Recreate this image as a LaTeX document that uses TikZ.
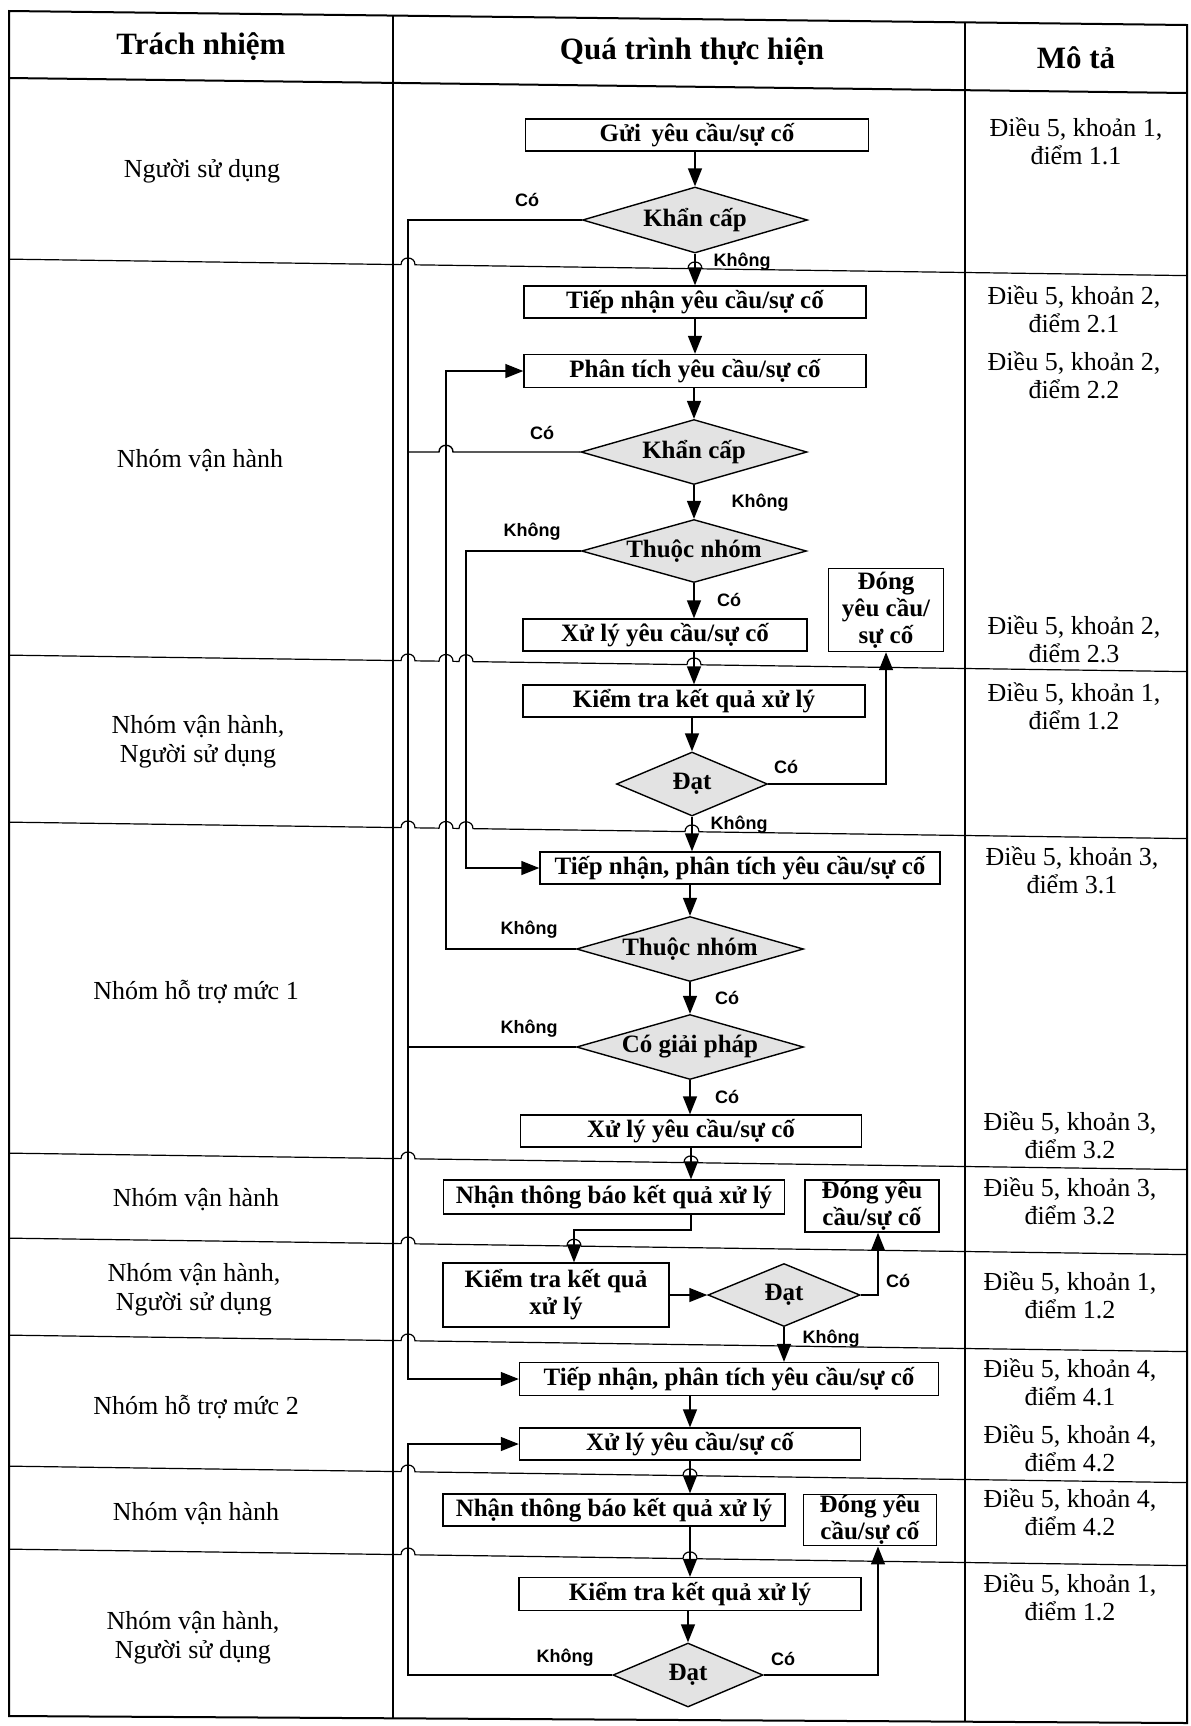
\documentclass[tikz,border=0pt]{standalone}
\usepackage{fontspec}
\setmainfont{Liberation Serif}
\newfontfamily\ynfont{Liberation Sans}
\usetikzlibrary{arrows.meta,shapes.geometric}
\tikzset{
  proc/.style={draw, line width=0.7pt, fill=white, inner sep=0.5pt, align=center,
    font=\bfseries\fontsize{12.5}{13.5}\selectfont},
  dec/.style={draw, line width=0.7pt, diamond, fill=gray!22, inner sep=0pt},
  dtext/.style={font=\bfseries\fontsize{12.5}{14}\selectfont, inner sep=0pt},
  yn/.style={font=\ynfont\bfseries\fontsize{9}{10}\selectfont, inner sep=0pt},
  resp/.style={align=center, font=\fontsize{13}{14.5}\selectfont},
  desc/.style={align=center, font=\fontsize{13}{14}\selectfont},
  head/.style={font=\bfseries\fontsize{15.5}{17}\selectfont},
  flow/.style={line width=0.7pt, -{Triangle[length=9pt,width=7pt]}},
  wire/.style={line width=0.7pt},
  grid/.style={line width=0.6pt},
  frame/.style={line width=1pt},
}
\begin{document}
\begin{tikzpicture}[x=0.5pt,y=-0.5pt]
\useasboundingbox (0,0) rectangle (1190,1726);
\fill[white] (0,0) rectangle (1190,1726);

% ---------- table ----------
\draw[frame] (9,11) -- (1187,25) -- (1187,1723) -- (9,1716) -- cycle;
\draw[frame] (9,78) -- (1187,93);
\draw[grid] (393,16) -- (393,1718);
\draw[grid] (965,22) -- (965,1721);

\begin{scope}[rotate around={-0.8:(500,266)}]
\draw[grid] (9,266) -- (401,266) .. controls (401,257) and (415,257) .. (415,266)
  -- (688,266) .. controls (688,257) and (702,257) .. (702,266) -- (1187,266);
\end{scope}
\begin{scope}[rotate around={-0.8:(500,662)}]
\draw[grid] (9,662) -- (401,662) .. controls (401,653) and (415,653) .. (415,662)
  -- (439,662) .. controls (439,653) and (453,653) .. (453,662)
  -- (459,662) .. controls (459,653) and (473,653) .. (473,662)
  -- (687,662) .. controls (687,653) and (701,653) .. (701,662) -- (1187,662);
\end{scope}
\begin{scope}[rotate around={-0.8:(500,829)}]
\draw[grid] (9,829) -- (401,829) .. controls (401,820) and (415,820) .. (415,829)
  -- (439,829) .. controls (439,820) and (453,820) .. (453,829)
  -- (459,829) .. controls (459,820) and (473,820) .. (473,829)
  -- (685,829) .. controls (685,820) and (699,820) .. (699,829) -- (1187,829);
\end{scope}
\begin{scope}[rotate around={-0.8:(500,1160)}]
\draw[grid] (9,1160) -- (401,1160) .. controls (401,1151) and (415,1151) .. (415,1160)
  -- (684,1160) .. controls (684,1151) and (698,1151) .. (698,1160) -- (1187,1160);
\end{scope}
\begin{scope}[rotate around={-0.8:(500,1245)}]
\draw[grid] (9,1245) -- (401,1245) .. controls (401,1236) and (415,1236) .. (415,1245)
  -- (567,1245) .. controls (567,1236) and (581,1236) .. (581,1245) -- (1187,1245);
\end{scope}
\begin{scope}[rotate around={-0.8:(500,1342)}]
\draw[grid] (9,1342) -- (401,1342) .. controls (401,1333) and (415,1333) .. (415,1342)
  -- (1187,1342);
\end{scope}
\begin{scope}[rotate around={-0.8:(500,1473)}]
\draw[grid] (9,1473) -- (401,1473) .. controls (401,1464) and (415,1464) .. (415,1473)
  -- (683,1473) .. controls (683,1464) and (697,1464) .. (697,1473) -- (1187,1473);
\end{scope}
\begin{scope}[rotate around={-0.8:(500,1556)}]
\draw[grid] (9,1556) -- (401,1556) .. controls (401,1547) and (415,1547) .. (415,1556)
  -- (683,1556) .. controls (683,1547) and (697,1547) .. (697,1556) -- (1187,1556);
\end{scope}

% ---------- headers ----------
\node[head] (h1) at (201,47) {Trách nhiệm};
\node[head] (h2) at (692,52) {Quá trình thực hiện};
\node[head] (h3) at (1076,58) {Mô tả};

% ---------- responsibilities ----------
\node[resp] (r1) at (202,171) {Người sử dụng};
\node[resp] (r2) at (200,461) {Nhóm vận hành};
\node[resp] (r3) at (198,742) {Nhóm vận hành,\\Người sử dụng};
\node[resp] (r4) at (196,992) {Nhóm hỗ trợ mức 1};
\node[resp] (r5) at (196,1200) {Nhóm vận hành};
\node[resp] (r6) at (194,1290) {Nhóm vận hành,\\Người sử dụng};
\node[resp] (r7) at (196,1407) {Nhóm hỗ trợ mức 2};
\node[resp] (r8) at (196,1514) {Nhóm vận hành};
\node[resp] (r9) at (193,1638) {Nhóm vận hành,\\Người sử dụng};

% ---------- descriptions ----------
\node[desc] (m1) at (1076,141) {Điều 5, khoản 1,\\điểm 1.1};
\node[desc] (m2) at (1074,309) {Điều 5, khoản 2,\\điểm 2.1};
\node[desc] (m3) at (1074,375) {Điều 5, khoản 2,\\điểm 2.2};
\node[desc] (m4) at (1074,639) {Điều 5, khoản 2,\\điểm 2.3};
\node[desc] (m5) at (1074,706) {Điều 5, khoản 1,\\điểm 1.2};
\node[desc] (m6) at (1072,870) {Điều 5, khoản 3,\\điểm 3.1};
\node[desc] (m7) at (1070,1135) {Điều 5, khoản 3,\\điểm 3.2};
\node[desc] (m8) at (1070,1201) {Điều 5, khoản 3,\\điểm 3.2};
\node[desc] (m9) at (1070,1295) {Điều 5, khoản 1,\\điểm 1.2};
\node[desc] (m10) at (1070,1382) {Điều 5, khoản 4,\\điểm 4.1};
\node[desc] (m11) at (1070,1448) {Điều 5, khoản 4,\\điểm 4.2};
\node[desc] (m12) at (1070,1512) {Điều 5, khoản 4,\\điểm 4.2};
\node[desc] (m13) at (1070,1597) {Điều 5, khoản 1,\\điểm 1.2};

% ---------- process nodes ----------
\node[proc, minimum width=171.5pt, minimum height=16pt] (gui) at (697,135) {Gửi\, yêu cầu/sự cố};
\node[dec, minimum width=112.5pt, minimum height=33pt, label={[dtext]center:Khẩn cấp}] (k1) at (695,220) {};
\node[proc, minimum width=171pt, minimum height=16pt] (tn1) at (695,302) {Tiếp nhận yêu cầu/sự cố};
\node[proc, minimum width=171pt, minimum height=16.5pt] (pt) at (695,371) {Phân tích yêu cầu/sự cố};
\node[dec, minimum width=113pt, minimum height=32.5pt, label={[dtext]center:Khẩn cấp}] (k2) at (694,452) {};
\node[dec, minimum width=112.5pt, minimum height=31.5pt, label={[dtext]center:Thuộc nhóm}] (tnh1) at (694,551) {};
\node[proc, minimum width=142pt, minimum height=16pt] (xl1) at (665,635) {Xử lý yêu cầu/sự cố};
\node[proc, minimum width=57.5pt, minimum height=41.5pt] (dong1) at (886,610) {Đóng\\yêu cầu/\\sự cố};
\node[proc, minimum width=171pt, minimum height=16pt] (kt1) at (694,701) {Kiểm tra kết quả xử lý};
\node[dec, minimum width=75.5pt, minimum height=32pt, label={[dtext]center:Đạt}] (dat1) at (692,784) {};
\node[proc, minimum width=200pt, minimum height=16pt] (tnp1) at (740,868) {Tiếp nhận, phân tích yêu cầu/sự cố};
\node[dec, minimum width=113.5pt, minimum height=32.5pt, label={[dtext]center:Thuộc nhóm}] (tnh2) at (690,949) {};
\node[dec, minimum width=113.5pt, minimum height=32.5pt, label={[dtext]center:Có giải pháp}] (cgp) at (690,1047) {};
\node[proc, minimum width=170.5pt, minimum height=16pt] (xl2) at (691,1131) {Xử lý yêu cầu/sự cố};
\node[proc, minimum width=170.5pt, minimum height=17pt] (nt1) at (614,1197) {Nhận thông báo kết quả xử lý};
\node[proc, minimum width=67pt, minimum height=26pt] (dong2) at (872,1206) {Đóng yêu\\cầu/sự cố};
\node[proc, minimum width=113pt, minimum height=32pt] (kt2) at (556,1295) {Kiểm tra kết quả\\xử lý};
\node[dec, minimum width=76pt, minimum height=31.5pt, label={[dtext]center:Đạt}] (dat2) at (784,1295) {};
\node[proc, minimum width=209.5pt, minimum height=16.5pt] (tnp2) at (729,1379) {Tiếp nhận, phân tích yêu cầu/sự cố};
\node[proc, minimum width=170.5pt, minimum height=16pt] (xl3) at (690,1444) {Xử lý yêu cầu/sự cố};
\node[proc, minimum width=171pt, minimum height=16pt] (nt2) at (614,1510) {Nhận thông báo kết quả xử lý};
\node[proc, minimum width=66.5pt, minimum height=25pt] (dong3) at (870,1520) {Đóng yêu\\cầu/sự cố};
\node[proc, minimum width=171pt, minimum height=16.5pt] (kt3) at (690,1594) {Kiểm tra kết quả xử lý};
\node[dec, minimum width=75pt, minimum height=32pt, label={[dtext]center:Đạt}] (dat3) at (688,1675) {};

% bus coordinates
\coordinate (busL) at (408,0);
\coordinate (busN) at (446,0);
\coordinate (busM) at (466,0);
\coordinate (j2) at (574,1230);

% ---------- connectors ----------
\draw[flow] (gui.south -| k1.north) -- (k1.north);
\draw[flow] (k1.south) -- (k1.south |- tn1.north);
\draw[flow] (tn1.south) -- (tn1.north |- pt.north);
\draw[flow] (pt.south -| k2.north) -- (k2.north);
\draw[flow] (k2.south) -- (k2.south |- tnh1.north);
\draw[flow] (tnh1.south) -- (tnh1.south |- xl1.north);
\draw[flow] (kt1.north |- xl1.south) -- (kt1.north);
\draw[flow] (kt1.south -| dat1.north) -- (dat1.north);
\draw[flow] (dat1.south) -- (dat1.south |- tnp1.north);
\draw[flow] (dat1.east) -| (dong1.south);
\draw[flow] (k1.west) -| (busL |- tnp2.west) -- (tnp2.west);
\draw[wire] (k2.west) -- (453,452) .. controls (453,443) and (439,443) .. (439,452) -- (busL |- k2.west);
\draw[flow] (tnh1.west) -| (busM |- tnp1.west) -- (tnp1.west);
\draw[flow] (tnh2.west) -| (busN |- pt.west) -- (pt.west);
\draw[wire] (cgp.west) -- (busL |- cgp.west);
\draw[flow] (tnh2.north |- tnp1.south) -- (tnh2.north);
\draw[flow] (tnh2.south) -- (cgp.north);
\draw[flow] (cgp.south) -- (cgp.south |- xl2.north);
\draw[flow] (xl2.south) -- (xl2.south |- nt1.north);
\draw[flow] (xl2.south |- nt1.south) -- (xl2.south |- j2) -- (j2) -- (j2 |- kt2.north);
\draw[flow] (kt2.east) -- (dat2.west);
\draw[flow] (dat2.east) -| ([xshift=3pt]dong2.south);
\draw[flow] (dat2.south) -- (dat2.south |- tnp2.north);
\draw[flow] (xl3.north |- tnp2.south) -- (xl3.north);
\draw[flow] (xl3.south) -- (xl3.south |- nt2.north);
\draw[flow] (kt3.north |- nt2.south) -- (kt3.north);
\draw[flow] (kt3.south -| dat3.north) -- (dat3.north);
\draw[flow] (dat3.west) -| (busL |- xl3.west) -- (xl3.west);
\draw[flow] (dat3.east) -| ([xshift=4pt]dong3.south);

% ---------- yes / no labels ----------
\node[yn] (lk1c) at (527,200) {Có};
\node[yn] (lk1k) at (742,262) {Không};
\node[yn] (lk2c) at (542,433) {Có};
\node[yn] (lk2k) at (760,503) {Không};
\node[yn] (lt1k) at (532,532) {Không};
\node[yn] (lt1c) at (729,600) {Có};
\node[yn] (ld1c) at (786,767) {Có};
\node[yn] (ld1k) at (739,825) {Không};
\node[yn] (lt2k) at (529,930) {Không};
\node[yn] (lt2c) at (727,998) {Có};
\node[yn] (lgk) at (529,1029) {Không};
\node[yn] (lgc) at (727,1097) {Có};
\node[yn] (ld2c) at (898,1281) {Có};
\node[yn] (ld2k) at (831,1339) {Không};
\node[yn] (ld3k) at (565,1658) {Không};
\node[yn] (ld3c) at (783,1659) {Có};
\end{tikzpicture}
\end{document}
